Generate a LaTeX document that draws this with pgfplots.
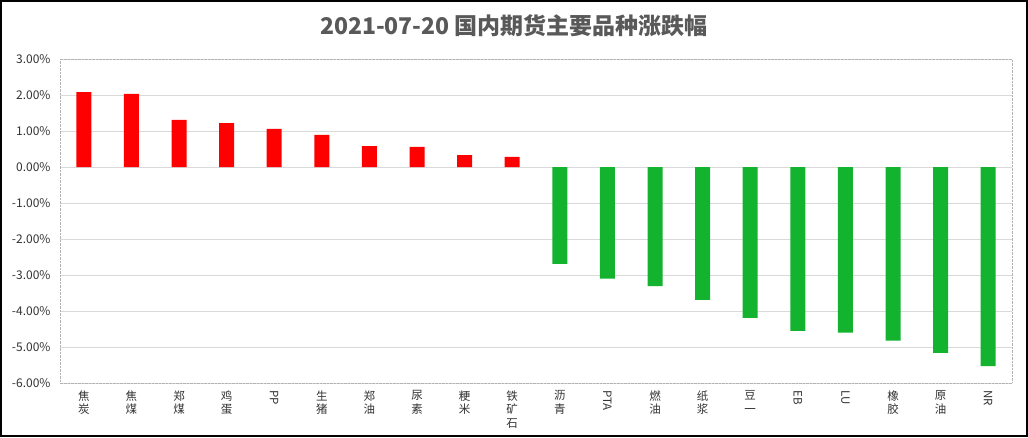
\documentclass[border=0pt]{standalone}
\usepackage{pgfplots}
\pgfplotsset{compat=1.18}
\usepackage{fontspec}
\setmainfont{Noto Sans CJK SC}
\newfontfamily\cjk{Noto Sans CJK SC}
\definecolor{upred}{HTML}{FF0000}
\definecolor{dngreen}{HTML}{14B32F}
\definecolor{gridc}{HTML}{D9D9D9}
\definecolor{titlec}{HTML}{595959}
\definecolor{tickc}{HTML}{333333}
\begin{document}
\begin{tikzpicture}[x=1pt,y=1pt]
\useasboundingbox (0,0) rectangle (1028,437);
\fill[white] (0,0) rectangle (1028,437);
\draw[black,line width=2pt] (1,1) rectangle (1027,436);
\node[font={\cjk\bfseries\fontsize{23}{27}\selectfont},text=titlec] at (514,411) {2021-07-20 国内期货主要品种涨跌幅};
\begin{axis}[
  at={(60pt,54pt)}, anchor=south west,
  scale only axis, width=952pt, height=324pt,
  xmin=-0.5, xmax=19.5, ymin=-6, ymax=3,
  ybar, bar width=15pt, bar shift=0pt,
  axis line style={draw=gray!60, densely dotted},
  ytick={-6,-5,-4,-3,-2,-1,0,1,2,3},
  yticklabels={-6.00\%,-5.00\%,-4.00\%,-3.00\%,-2.00\%,-1.00\%,0.00\%,1.00\%,2.00\%,3.00\%},
  yticklabel style={font={\cjk\fontsize{12}{14}\selectfont}, text=tickc, xshift=-6pt},
  ymajorgrids, grid style={gridc, line width=0.8pt},
  major tick length=0pt,
  xtick={0,...,19},
  xticklabels={
    {焦\\炭},{焦\\煤},{郑\\煤},{鸡\\蛋},{\rotatebox{-90}{PP}},{生\\猪},{郑\\油},{尿\\素},{粳\\米},{铁\\矿\\石},
    {沥\\青},{\rotatebox{-90}{PTA}},{燃\\油},{纸\\浆},{豆\\一},{\rotatebox{-90}{EB}},{\rotatebox{-90}{LU}},{橡\\胶},{原\\油},{\rotatebox{-90}{NR}}},
  xticklabel style={font={\cjk\fontsize{11.5}{13.5}\selectfont}, text=tickc, align=center, anchor=north, yshift=-4pt},
]
\addplot[fill=upred, draw=none] coordinates {
(0,2.08) (1,2.03) (2,1.31) (3,1.22) (4,1.06) (5,0.89) (6,0.58) (7,0.56) (8,0.33) (9,0.28)};
\addplot[fill=dngreen, draw=none] coordinates {
(10,-2.69) (11,-3.10) (12,-3.31) (13,-3.69) (14,-4.19) (15,-4.55) (16,-4.60) (17,-4.82) (18,-5.16) (19,-5.53)};
\end{axis}
\end{tikzpicture}
\end{document}
